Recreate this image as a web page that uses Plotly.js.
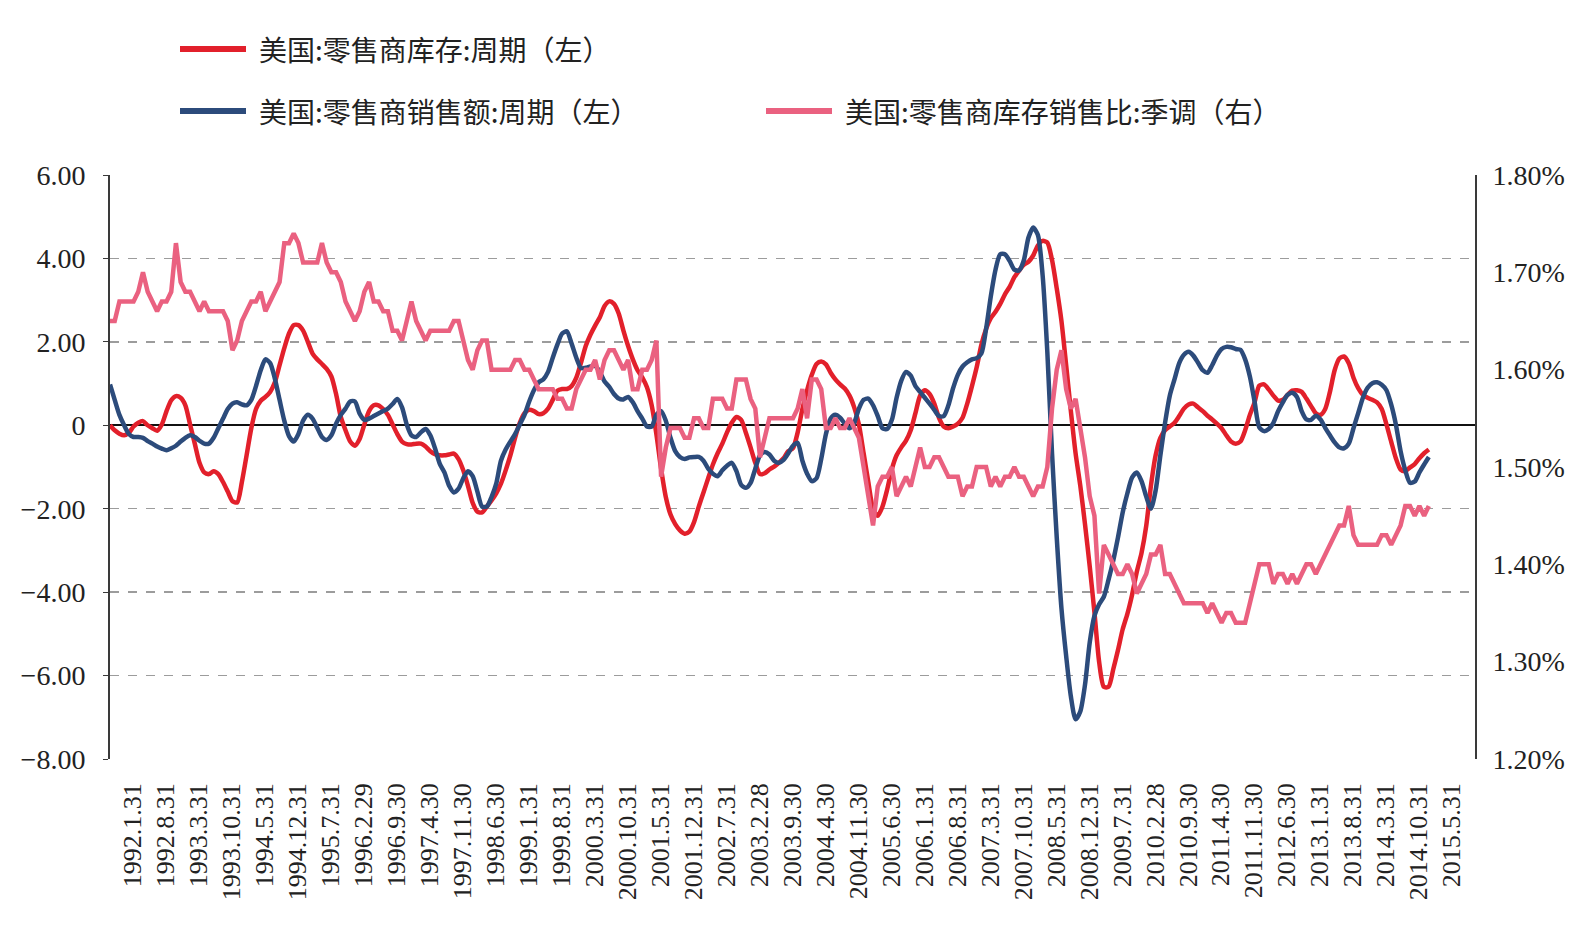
<!DOCTYPE html>
<html>
<head>
<meta charset="utf-8">
<script src="https://cdn.plot.ly/plotly-3.0.1.min.js"></script>
<style>
html,body{margin:0;padding:0;background:#fff;}
#chart{width:1586px;height:939px;}
</style>
</head>
<body>
<div id="chart"></div>
<script>
// ---- data (monthly, starting 1992.1) ----
const seriesNames = [
  '美国:零售商库存:周期（左）',
  '美国:零售商销售额:周期（左）',
  '美国:零售商库存销售比:季调（右）'
];

const inventoryCycle = [
  0.00,-0.12,-0.20,-0.24,-0.18,-0.03,0.06,0.10,0.00,-0.07,-0.13,0.02,
  0.34,0.60,0.70,0.66,0.48,0.02,-0.44,-0.90,-1.13,-1.17,-1.10,-1.17,
  -1.36,-1.59,-1.82,-1.85,-1.36,-0.72,-0.07,0.39,0.59,0.68,0.80,1.03,
  1.44,1.85,2.20,2.40,2.40,2.27,2.00,1.72,1.58,1.47,1.35,1.17,
  0.75,0.20,-0.12,-0.39,-0.49,-0.33,0.02,0.34,0.48,0.48,0.39,0.25,
  0.02,-0.21,-0.39,-0.45,-0.46,-0.44,-0.44,-0.51,-0.62,-0.69,-0.72,-0.72,
  -0.70,-0.68,-0.81,-1.08,-1.45,-1.86,-2.07,-2.09,-1.95,-1.80,-1.63,-1.40,
  -1.08,-0.72,-0.30,0.06,0.29,0.37,0.34,0.27,0.29,0.40,0.61,0.83,
  0.87,0.87,0.94,1.14,1.50,1.90,2.17,2.39,2.59,2.86,2.97,2.91,
  2.68,2.27,1.90,1.58,1.32,1.15,0.91,0.48,-0.21,-1.04,-1.72,-2.14,
  -2.37,-2.52,-2.60,-2.55,-2.32,-1.95,-1.61,-1.27,-0.94,-0.67,-0.44,-0.17,
  0.06,0.20,0.13,-0.18,-0.53,-0.90,-1.17,-1.15,-1.06,-0.99,-0.90,-0.79,
  -0.62,-0.55,-0.17,0.39,0.84,1.21,1.47,1.53,1.46,1.26,1.10,0.98,
  0.88,0.71,0.43,0.02,-0.67,-1.36,-2.00,-2.17,-1.95,-1.54,-1.05,-0.72,
  -0.53,-0.37,-0.12,0.29,0.71,0.84,0.75,0.52,0.18,-0.03,-0.07,-0.03,
  0.04,0.18,0.52,0.94,1.39,1.93,2.31,2.57,2.72,2.91,3.14,3.32,
  3.55,3.71,3.85,3.92,4.07,4.31,4.42,4.38,3.96,3.28,2.50,1.44,
  0.34,-0.67,-1.45,-2.37,-3.38,-4.48,-5.67,-6.27,-6.27,-5.85,-5.39,-4.89,
  -4.52,-4.06,-3.51,-3.06,-2.41,-1.45,-0.72,-0.30,-0.12,-0.03,0.06,0.22,
  0.40,0.50,0.52,0.43,0.34,0.23,0.14,0.04,-0.07,-0.24,-0.39,-0.44,
  -0.39,-0.12,0.25,0.55,0.95,0.98,0.86,0.71,0.59,0.61,0.73,0.83,
  0.84,0.80,0.64,0.46,0.29,0.25,0.39,0.80,1.32,1.60,1.65,1.49,
  1.14,0.89,0.73,0.66,0.61,0.55,0.39,0.02,-0.39,-0.79,-1.06,-1.10,
  -1.01,-0.93,-0.79,-0.67,-0.58
];

const salesCycle = [
  0.98,0.61,0.25,0.00,-0.21,-0.28,-0.28,-0.30,-0.38,-0.44,-0.51,-0.56,
  -0.60,-0.55,-0.49,-0.39,-0.30,-0.24,-0.28,-0.37,-0.44,-0.44,-0.30,-0.07,
  0.16,0.39,0.52,0.55,0.50,0.48,0.61,0.94,1.32,1.58,1.49,1.12,
  0.61,0.11,-0.26,-0.39,-0.21,0.11,0.25,0.16,-0.06,-0.28,-0.35,-0.24,
  0.04,0.25,0.40,0.57,0.57,0.28,0.13,0.16,0.22,0.28,0.34,0.40,
  0.51,0.63,0.43,0.02,-0.24,-0.28,-0.17,-0.09,-0.24,-0.55,-0.92,-1.13,
  -1.45,-1.61,-1.52,-1.27,-1.10,-1.22,-1.59,-1.95,-1.95,-1.72,-1.40,-0.85,
  -0.58,-0.39,-0.21,0.02,0.25,0.57,0.84,1.03,1.10,1.28,1.62,1.94,
  2.20,2.25,1.96,1.62,1.37,1.38,1.41,1.42,1.28,1.05,0.92,0.75,
  0.64,0.62,0.68,0.55,0.34,0.16,-0.03,-0.03,0.25,0.34,0.11,-0.30,
  -0.62,-0.76,-0.81,-0.77,-0.76,-0.76,-0.85,-1.04,-1.16,-1.22,-1.08,-0.97,
  -0.90,-1.10,-1.43,-1.50,-1.38,-1.04,-0.72,-0.64,-0.70,-0.85,-0.90,-0.83,
  -0.67,-0.49,-0.42,-0.85,-1.16,-1.34,-1.27,-0.81,-0.21,0.16,0.25,0.18,
  0.04,-0.07,0.06,0.40,0.61,0.64,0.48,0.22,-0.07,-0.09,0.13,0.66,
  1.07,1.28,1.19,0.94,0.80,0.66,0.52,0.37,0.22,0.22,0.48,0.89,
  1.21,1.41,1.51,1.58,1.61,1.72,2.31,3.09,3.73,4.10,4.10,3.94,
  3.73,3.71,3.95,4.50,4.74,4.56,3.60,1.76,-0.67,-2.69,-4.39,-5.53,
  -6.50,-7.05,-6.86,-6.22,-5.21,-4.57,-4.29,-4.11,-3.70,-3.24,-2.69,-2.09,
  -1.63,-1.25,-1.13,-1.34,-1.71,-2.00,-1.56,-0.72,0.06,0.71,1.10,1.49,
  1.69,1.76,1.67,1.50,1.32,1.26,1.44,1.67,1.83,1.88,1.87,1.83,
  1.81,1.58,1.17,0.57,-0.05,-0.14,-0.09,0.06,0.34,0.55,0.73,0.78,
  0.68,0.34,0.14,0.13,0.23,0.14,-0.06,-0.24,-0.41,-0.53,-0.55,-0.44,
  -0.07,0.29,0.66,0.90,1.01,1.03,0.97,0.84,0.50,0.02,-0.62,-1.08,
  -1.38,-1.35,-1.13,-0.94,-0.76
];

const invSalesRatio = [
  1.65,1.65,1.67,1.67,1.67,1.67,1.68,1.70,1.68,1.67,1.66,1.67,
  1.67,1.68,1.73,1.69,1.68,1.68,1.67,1.66,1.67,1.66,1.66,1.66,
  1.66,1.65,1.62,1.63,1.65,1.66,1.67,1.67,1.68,1.66,1.67,1.68,
  1.69,1.73,1.73,1.74,1.73,1.71,1.71,1.71,1.71,1.73,1.71,1.70,
  1.70,1.69,1.67,1.66,1.65,1.66,1.68,1.69,1.67,1.67,1.66,1.66,
  1.64,1.64,1.63,1.65,1.67,1.65,1.64,1.63,1.64,1.64,1.64,1.64,
  1.64,1.65,1.65,1.63,1.61,1.60,1.62,1.63,1.63,1.60,1.60,1.60,
  1.60,1.60,1.61,1.61,1.60,1.60,1.59,1.58,1.58,1.58,1.58,1.57,
  1.57,1.56,1.56,1.58,1.59,1.60,1.60,1.61,1.59,1.61,1.62,1.62,
  1.61,1.60,1.61,1.58,1.58,1.60,1.60,1.61,1.63,1.49,1.52,1.54,
  1.54,1.54,1.53,1.53,1.55,1.55,1.54,1.54,1.57,1.57,1.57,1.56,
  1.56,1.59,1.59,1.59,1.57,1.56,1.51,1.53,1.55,1.55,1.55,1.55,
  1.55,1.55,1.56,1.58,1.55,1.59,1.59,1.58,1.54,1.54,1.55,1.54,
  1.54,1.55,1.54,1.53,1.50,1.47,1.44,1.48,1.49,1.49,1.50,1.47,
  1.48,1.49,1.48,1.50,1.52,1.50,1.50,1.51,1.51,1.50,1.49,1.49,
  1.49,1.47,1.48,1.48,1.50,1.50,1.50,1.48,1.49,1.48,1.49,1.49,
  1.50,1.49,1.49,1.48,1.47,1.48,1.48,1.50,1.56,1.60,1.62,1.58,
  1.56,1.57,1.54,1.51,1.47,1.45,1.37,1.42,1.41,1.40,1.39,1.39,
  1.40,1.39,1.37,1.38,1.39,1.41,1.41,1.42,1.39,1.39,1.38,1.37,
  1.36,1.36,1.36,1.36,1.36,1.35,1.36,1.35,1.34,1.35,1.35,1.34,
  1.34,1.34,1.36,1.38,1.40,1.40,1.40,1.38,1.39,1.39,1.38,1.39,
  1.38,1.39,1.40,1.40,1.39,1.40,1.41,1.42,1.43,1.44,1.44,1.46,
  1.43,1.42,1.42,1.42,1.42,1.42,1.43,1.43,1.42,1.43,1.44,1.46,
  1.46,1.45,1.46,1.45,1.46
];

const tickLabels = [
  '1992.1.31','1992.8.31','1993.3.31','1993.10.31','1994.5.31','1994.12.31',
  '1995.7.31','1996.2.29','1996.9.30','1997.4.30','1997.11.30','1998.6.30',
  '1999.1.31','1999.8.31','2000.3.31','2000.10.31','2001.5.31','2001.12.31',
  '2002.7.31','2003.2.28','2003.9.30','2004.4.30','2004.11.30','2005.6.30',
  '2006.1.31','2006.8.31','2007.3.31','2007.10.31','2008.5.31','2008.12.31',
  '2009.7.31','2010.2.28','2010.9.30','2011.4.30','2011.11.30','2012.6.30',
  '2013.1.31','2013.8.31','2014.3.31','2014.10.31','2015.5.31'
];

const leftTickVals  = [-8, -6, -4, -2, 0, 2, 4, 6];
const leftTickText  = ['\u22128.00', '\u22126.00', '\u22124.00', '\u22122.00', '0', '2.00', '4.00', '6.00'];
const rightTickVals = [1.2, 1.3, 1.4, 1.5, 1.6, 1.7, 1.8];
const rightTickText = ['1.20%', '1.30%', '1.40%', '1.50%', '1.60%', '1.70%', '1.80%'];

// month-end category labels, starting 1992.1
function monthEndLabel(k) {
  const y = 1992 + Math.floor(k / 12), m = (k % 12) + 1;
  const d = new Date(Date.UTC(y, m, 0)).getUTCDate();
  return y + '.' + m + '.' + d;
}
const months = inventoryCycle.map((_, k) => monthEndLabel(k));

// ---- styling ----
const colors = { red: '#E2202B', blue: '#2C4B7B', pink: '#EA6180' };
const W = 1586, H = 939;
const M = { l: 110, r: 111, t: 175, b: 180 };
const plotW = W - M.l - M.r, plotH = H - M.t - M.b;
const px2x = px => (px - M.l) / plotW;
const px2y = py => (H - M.b - py) / plotH;

const traces = [
  { x: months, y: inventoryCycle, name: seriesNames[0], type: 'scatter', mode: 'lines',
    line: { color: colors.red, width: 4.5, shape: 'spline', smoothing: 0.7 }, yaxis: 'y' },
  { x: months, y: salesCycle, name: seriesNames[1], type: 'scatter', mode: 'lines',
    line: { color: colors.blue, width: 4.5, shape: 'spline', smoothing: 0.7 }, yaxis: 'y' },
  { x: months, y: invSalesRatio, name: seriesNames[2], type: 'scatter', mode: 'lines',
    line: { color: colors.pink, width: 4.5 }, yaxis: 'y2' }
];

const legendItems = [
  { name: seriesNames[0], color: colors.red,  x: 180, y: 49 },
  { name: seriesNames[1], color: colors.blue, x: 180, y: 111 },
  { name: seriesNames[2], color: colors.pink, x: 766, y: 111 }
];
const shapes = legendItems.map(it => ({
  type: 'line', xref: 'paper', yref: 'paper',
  x0: px2x(it.x), x1: px2x(it.x + 66), y0: px2y(it.y), y1: px2y(it.y),
  line: { color: it.color, width: 6 }
}));
const annotations = legendItems.map(it => ({
  xref: 'paper', yref: 'paper', x: px2x(it.x + 77), y: px2y(it.y),
  xanchor: 'left', yanchor: 'middle', showarrow: false, text: it.name,
  font: { family: '"Noto Sans CJK SC", "Noto Sans", sans-serif', size: 28, color: '#222' }
}));

const layout = {
  width: W, height: H,
  margin: { l: M.l, r: M.r, t: M.t, b: M.b, pad: 0 },
  paper_bgcolor: '#ffffff', plot_bgcolor: '#ffffff',
  showlegend: false,
  font: { family: '"Liberation Serif", "Times New Roman", serif', color: '#222' },
  xaxis: {
    type: 'category', range: [0, 289.8],
    tickmode: 'array', tickvals: tickLabels, ticktext: tickLabels,
    tickangle: -90, tickfont: { size: 26, color: '#222' },
    ticklabelshift: 23, ticklabelstandoff: 18,
    showgrid: false, showline: false, zeroline: false, ticks: ''
  },
  yaxis: {
    range: [-8, 6], tickmode: 'array', tickvals: leftTickVals, ticktext: leftTickText,
    tickfont: { size: 28, color: '#222' },
    showgrid: true, gridcolor: '#9c9c9c', griddash: 'dash', gridwidth: 1.3,
    zeroline: true, zerolinecolor: '#111', zerolinewidth: 1.6,
    showline: true, linecolor: '#3a3a3a', linewidth: 2,
    ticks: 'outside', ticklen: 5, tickcolor: '#3a3a3a', ticklabelstandoff: 12
  },
  yaxis2: {
    overlaying: 'y', side: 'right', range: [1.2, 1.8],
    tickmode: 'array', tickvals: rightTickVals, ticktext: rightTickText,
    tickfont: { size: 28, color: '#222' },
    showgrid: false, zeroline: false,
    showline: true, linecolor: '#3a3a3a', linewidth: 2, ticks: '', ticklabelstandoff: 10
  },
  shapes: shapes,
  annotations: annotations
};

Plotly.newPlot('chart', traces, layout, { displayModeBar: false, staticPlot: true });
</script>
</body>
</html>
